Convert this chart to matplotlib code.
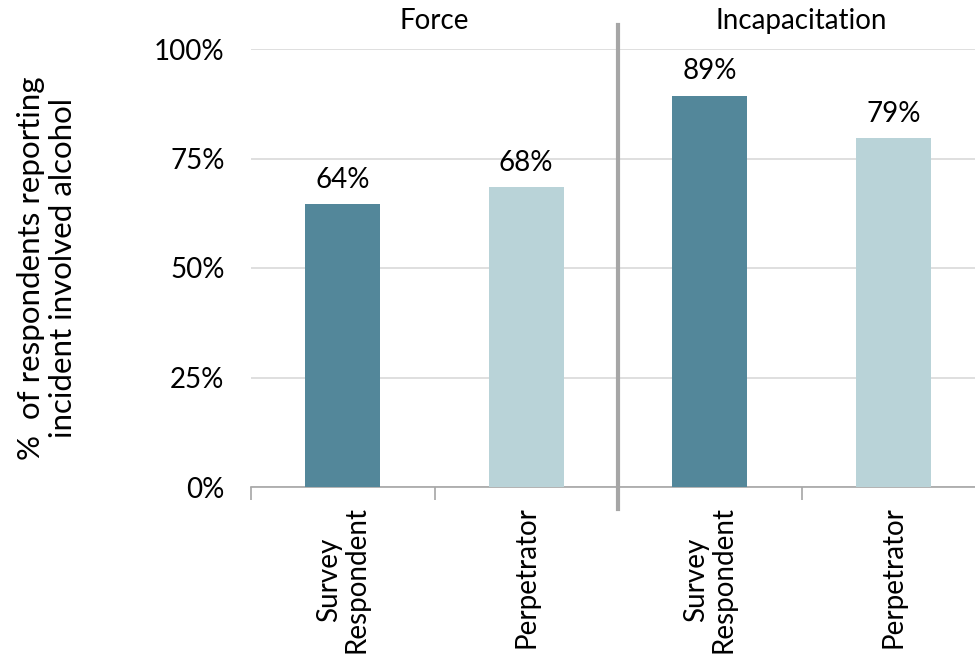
import matplotlib
matplotlib.use("Agg")
import matplotlib.pyplot as plt
from matplotlib.transforms import blended_transform_factory

categories = ["Survey\nRespondent", "Perpetrator", "Survey\nRespondent", "Perpetrator"]
values = [64.6, 68.5, 89.3, 79.6]
value_labels = ["64%", "68%", "89%", "79%"]
groups = ["Force", "Incapacitation"]
yticks = [0, 25, 50, 75, 100]
ytick_labels = ["0%", "25%", "50%", "75%", "100%"]
colors = ["#53879A", "#B9D3D8", "#53879A", "#B9D3D8"]

plt.rcParams['font.family'] = ['Lato', 'DejaVu Sans']

fig = plt.figure(figsize=(9.75, 6.55), dpi=100)
W, H = 975, 655
x0, x1 = 251, 985
y0, y1 = 487, 49
ax = fig.add_axes([x0 / W, (H - y0) / H, (x1 - x0) / W, (y0 - y1) / H])

xs = list(range(len(values)))
ax.bar(xs, values, width=0.41, color=colors, zorder=3)
ax.set_xlim(-0.5, 3.5)
ax.set_ylim(0, 100)

for x, v, lab in zip(xs, values, value_labels):
    ax.text(x, v + 2.6, lab, ha="center", va="bottom", fontsize=20, color="#000000")

ax.set_yticks(yticks)
ax.set_yticklabels(ytick_labels, fontsize=20)
ax.tick_params(axis="y", length=0, pad=19)
ax.yaxis.grid(True, color="#D9D9D9", linewidth=1.2, zorder=0)

ax.set_xticks(xs)
ax.set_xticklabels(categories, rotation=90, fontsize=20, linespacing=1.05)
ax.set_xticks([-0.5, 0.5, 1.5, 2.5], minor=True)
ax.tick_params(axis="x", which="major", length=0, pad=14)
ax.tick_params(axis="x", which="minor", length=9, color="#A6A6A6", width=1.2)

for s in ["top", "right", "left"]:
    ax.spines[s].set_visible(False)
ax.spines["bottom"].set_color("#A6A6A6")
ax.spines["bottom"].set_linewidth(1.2)

trans = blended_transform_factory(ax.transData, ax.transAxes)
ax.plot([1.5, 1.5], [-0.05, 1.055], transform=trans, color="#A6A6A6",
        linewidth=3, clip_on=False, zorder=4)

ax.text(0.5, 1.064, groups[0], transform=trans, ha="center", va="center", fontsize=20)
ax.text(2.5, 1.064, groups[1], transform=trans, ha="center", va="center", fontsize=20)

fig.text(47 / W, (H - 268) / H, "%  of respondents reporting\nincident involved alcohol",
         rotation=90, ha="center", va="center", fontsize=22.5, linespacing=1.15)

fig.savefig("out.png", dpi=100)
